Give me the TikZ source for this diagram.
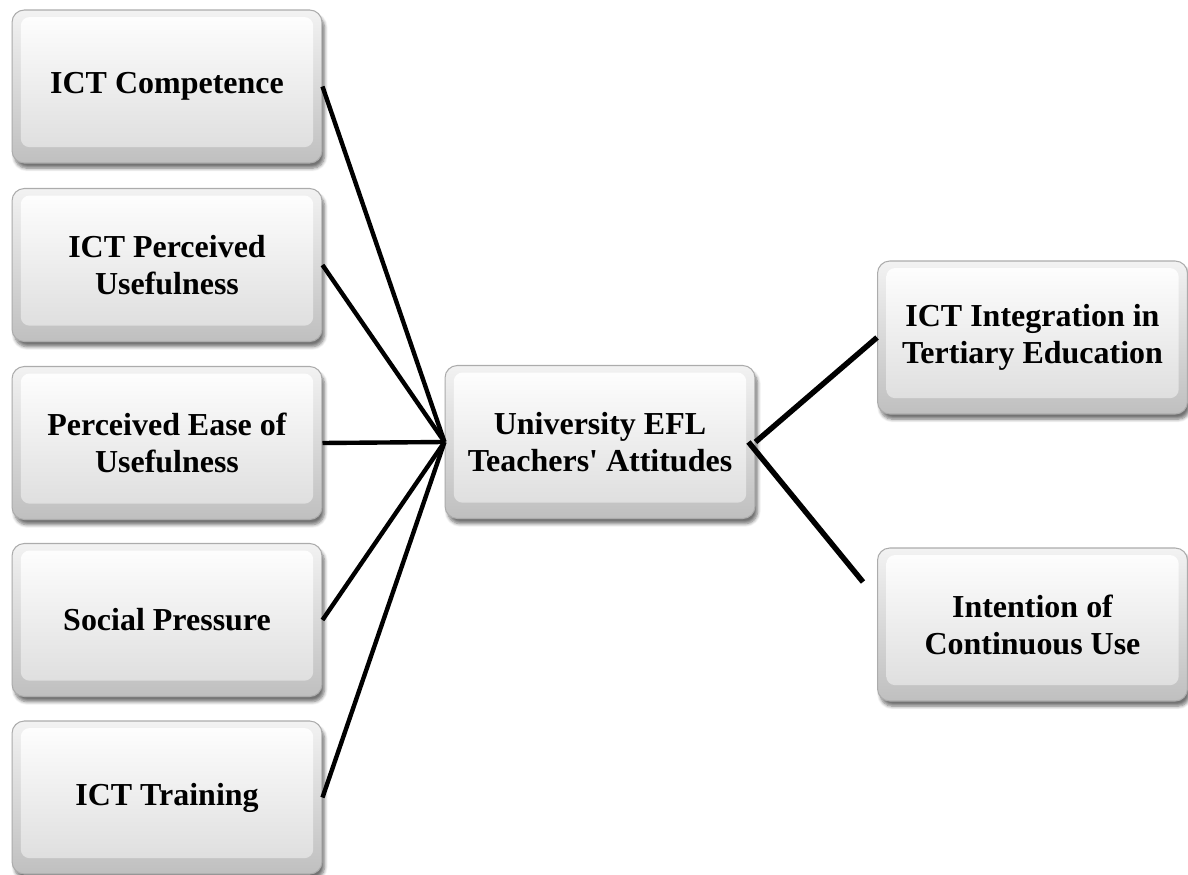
\documentclass[tikz,border=0pt]{standalone}
\usepackage{fontspec}
\setmainfont{Liberation Serif}
% plain family without TeX ligature mapping, so ' stays a straight quote
\newfontfamily\boxfont{Liberation Serif}
\usetikzlibrary{shadows.blur}
\begin{document}
\begin{tikzpicture}[x=0.02cm,y=-0.02cm,
  glassbox/.style={rounded corners=7pt, draw=gray!65, line width=0.6pt,
    top color=gray!10, bottom color=gray!50,
    minimum width=6.2cm, minimum height=3.06cm, inner sep=0pt,
    align=center, font=\boxfont\fontsize{18.2}{21}\selectfont\bfseries,
    blur shadow={shadow xshift=1.5pt, shadow yshift=-3pt, shadow blur steps=6, shadow opacity=55},
    path picture={
      \shade[top color=white, bottom color=gray!28, rounded corners=5pt]
        ([shift={(5pt,-4pt)}]path picture bounding box.north west) rectangle
        ([shift={(-5pt,9pt)}]path picture bounding box.south east);
    }},
  link/.style={line width=2.5pt, black},
  thicklink/.style={line width=3.1pt, black}]
\useasboundingbox (0,0) rectangle (1188,875);

% factor boxes on the left
\node[glassbox] (comp) at (167,86.5)  {ICT Competence};
\node[glassbox] (useful) at (167,265) {ICT Perceived\\Usefulness};
\node[glassbox] (ease) at (167,443)   {Perceived Ease of\\Usefulness};
\node[glassbox] (social) at (167,620) {Social Pressure};
\node[glassbox] (train) at (167,797.5){ICT Training};

% central construct
\node[glassbox] (att) at (600,442) {University EFL\\Teachers' Attitudes};

% outcomes on the right
\node[glassbox] (integ) at (1032.5,337.5) {ICT Integration in\\Tertiary Education};
\node[glassbox] (intent) at (1032.5,624.5) {Intention of\\Continuous Use};

% connectors
\foreach \n in {comp,useful,ease,social,train}
  \draw[link] (\n.east) -- (att.west);
\draw[thicklink] (att.east) -- (integ.west);
\coordinate (lowend) at (863,582);
\draw[thicklink] ([xshift=-4pt]att.east) -- (lowend);
\end{tikzpicture}
\end{document}
